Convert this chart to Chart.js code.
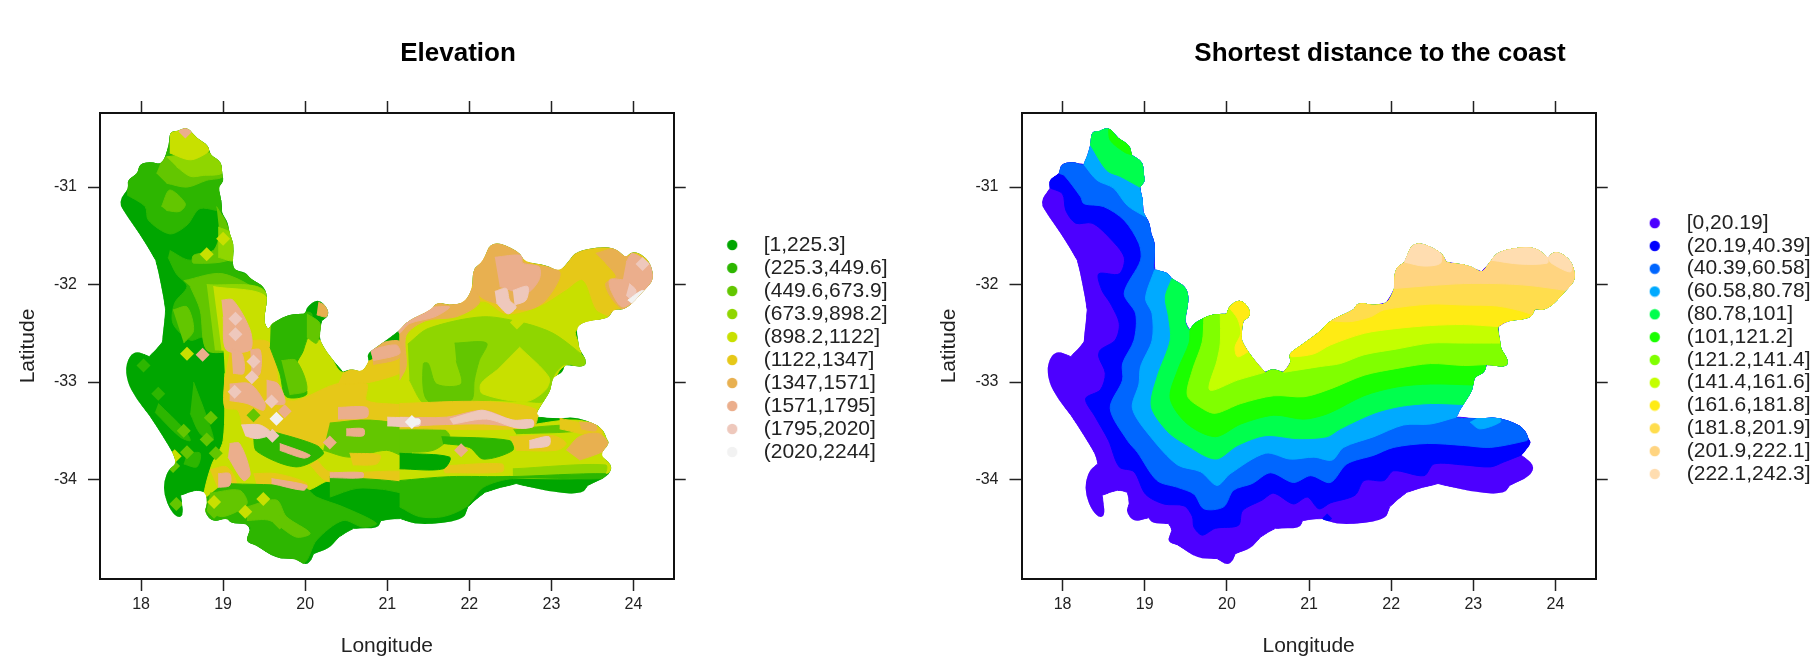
<!DOCTYPE html>
<html>
<head>
<meta charset="utf-8">
<title>Elevation and distance to the coast</title>
<script src="https://cdn.jsdelivr.net/npm/chart.js@4/dist/chart.umd.min.js"></script>
<style>
html, body { margin: 0; padding: 0; background: #fff; overflow: hidden; width: 1812px; height: 667px; }
.panel { position: absolute; top: 0; height: 667px; }
#elevationPanel { left: 0; width: 916px; }
#distancePanel { left: 930px; width: 900px; }
</style>
</head>
<body>
<div class="panel" id="elevationPanel"><canvas id="elevationChart"></canvas></div>
<div class="panel" id="distancePanel"><canvas id="distanceChart"></canvas></div>
<script>
const lonTicks = [18, 19, 20, 21, 22, 23, 24];
const latTicks = [-31, -32, -33, -34];

const elevationLabels = ['[1,225.3]', '(225.3,449.6]', '(449.6,673.9]', '(673.9,898.2]', '(898.2,1122]', '(1122,1347]', '(1347,1571]', '(1571,1795]', '(1795,2020]', '(2020,2244]'];
const elevationColors = ['#00A600', '#2DB600', '#63C600', '#8FD600', '#C8E000', '#E6C818', '#E8B050', '#EBAE8C', '#EEC8BC', '#F2F2F2'];

const distanceLabels = ['[0,20.19]', '(20.19,40.39]', '(40.39,60.58]', '(60.58,80.78]', '(80.78,101]', '(101,121.2]', '(121.2,141.4]', '(141.4,161.6]', '(161.6,181.8]', '(181.8,201.9]', '(201.9,222.1]', '(222.1,242.3]'];
const distanceColors = ['#4C00FF', '#0000FF', '#0066FF', '#00AAFF', '#00FF4D', '#1AFF00', '#80FF00', '#C4FF00', '#FFEB14', '#FFDD4D', '#FFD480', '#FFDDB0'];

// province outline, clockwise from the northern tip, [lon, lat]
const coast = [
  [18.56,-30.38],[18.68,-30.50],[18.82,-30.57],[18.84,-30.67],[18.98,-30.74],[18.99,-30.88],[19.01,-30.94],[18.94,-31.00],
  [18.98,-31.13],[18.98,-31.25],[19.02,-31.31],[19.06,-31.37],[19.08,-31.48],[19.13,-31.58],[19.12,-31.72],[19.12,-31.85],[19.27,-31.87],
  [19.33,-31.94],[19.51,-32.02],[19.54,-32.16],[19.49,-32.37],[19.55,-32.47],[19.59,-32.40],[19.72,-32.34],[19.81,-32.31],[19.92,-32.30],[20.00,-32.30],
  [20.02,-32.23],[20.16,-32.14],[20.28,-32.25],[20.28,-32.33],[20.20,-32.37],[20.18,-32.50],[20.18,-32.57],[20.26,-32.69],[20.46,-32.90],
  [20.56,-32.86],[20.69,-32.90],[20.78,-32.79],[20.75,-32.71],[20.87,-32.64],[21.15,-32.47],[21.25,-32.37],[21.54,-32.26],[21.60,-32.18],
  [21.76,-32.21],[21.94,-32.19],[22.04,-32.04],[22.04,-31.84],[22.165,-31.77],[22.27,-31.54],[22.61,-31.66],[22.67,-31.77],[22.935,-31.80],
  [23.10,-31.87],[23.22,-31.75],[23.30,-31.66],[23.60,-31.61],[23.79,-31.63],[23.91,-31.73],[23.97,-31.66],[24.09,-31.68],[24.21,-31.78],
  [24.25,-31.95],[24.13,-32.06],[23.91,-32.26],[23.75,-32.25],[23.70,-32.35],[23.44,-32.37],[23.30,-32.43],[23.33,-32.60],[23.34,-32.66],[23.43,-32.78],
  [23.40,-32.85],[23.16,-32.82],[23.14,-32.90],[23.02,-32.95],[23.00,-33.03],[22.98,-33.10],[22.88,-33.23],[22.79,-33.36],[23.10,-33.37],[23.30,-33.36],
  [23.54,-33.43],[23.64,-33.50],[23.67,-33.58],[23.71,-33.63],[23.58,-33.75],[23.75,-33.85],[23.69,-33.97],[23.44,-34.06],[23.38,-34.15],[22.98,-34.13],
  [22.57,-34.04],[22.19,-34.13],[21.98,-34.28],[21.93,-34.42],[21.38,-34.47],[21.16,-34.40],[20.92,-34.42],[20.89,-34.50],[20.59,-34.50],
  [20.41,-34.59],[20.29,-34.71],[20.10,-34.76],[20.08,-34.83],[20.00,-34.88],[19.88,-34.81],[19.64,-34.81],[19.40,-34.67],[19.27,-34.64],
  [19.33,-34.52],[19.29,-34.45],[19.09,-34.45],[19.05,-34.39],[18.87,-34.44],[18.77,-34.33],[18.81,-34.25],[18.79,-34.13],[18.67,-34.11],
  [18.48,-34.16],[18.52,-34.35],[18.46,-34.40],[18.36,-34.32],[18.28,-34.16],[18.28,-34.01],[18.34,-33.89],[18.43,-33.84],[18.39,-33.73],
  [18.26,-33.55],[18.10,-33.34],[17.94,-33.17],[17.83,-33.00],[17.81,-32.81],[17.92,-32.67],[18.10,-32.74],[18.26,-32.59],[18.26,-32.54],
  [18.30,-32.26],[18.24,-31.99],[18.18,-31.75],[17.98,-31.48],[17.83,-31.30],[17.72,-31.15],[17.85,-31.01],[17.83,-30.93],[17.96,-30.86],
  [17.98,-30.76],[18.12,-30.74],[18.26,-30.77],[18.34,-30.57],[18.35,-30.43],[18.44,-30.43]
];

// distance bands: each line runs from one point of the outline to another
const line20 = [[17.85,-31.01],[18.00,-31.07],[18.04,-31.24],[18.16,-31.37],[18.36,-31.37],[18.56,-31.51],[18.75,-31.72],[18.69,-31.89],[18.44,-31.89],[18.48,-32.06],[18.58,-32.19],[18.69,-32.40],[18.64,-32.57],[18.46,-32.67],[18.44,-32.74],[18.52,-32.91],[18.46,-33.08],[18.28,-33.17],[18.40,-33.36],[18.56,-33.60],[18.69,-33.87],[18.87,-33.92],[19.01,-34.15],[19.23,-34.25],[19.48,-34.27],[19.58,-34.38],[19.60,-34.49],[19.70,-34.57],[19.86,-34.50],[20.14,-34.47],[20.19,-34.32],[20.43,-34.21],[20.57,-34.14],[20.81,-34.25],[20.98,-34.18],[21.12,-34.30],[21.26,-34.24],[21.56,-34.16],[21.67,-34.01],[21.91,-34.01],[22.03,-33.91],[22.40,-33.96],[22.52,-33.84],[22.88,-33.85],[23.21,-33.87],[23.37,-33.82],[23.58,-33.75]];
const line40 = [[17.96,-30.86],[18.02,-30.88],[18.22,-31.10],[18.26,-31.17],[18.50,-31.20],[18.75,-31.34],[18.93,-31.58],[18.95,-31.75],[18.75,-32.09],[18.89,-32.30],[18.87,-32.57],[18.73,-32.81],[18.73,-32.98],[18.58,-33.27],[18.79,-33.60],[18.91,-33.72],[19.15,-34.01],[19.40,-34.08],[19.60,-34.15],[19.72,-34.30],[19.96,-34.28],[20.08,-34.11],[20.31,-34.04],[20.53,-33.93],[20.81,-34.03],[21.02,-33.96],[21.26,-34.03],[21.46,-33.84],[21.79,-33.75],[22.03,-33.67],[22.44,-33.63],[22.88,-33.65],[23.21,-33.67],[23.65,-33.60],[23.67,-33.58]];
const line60north = [[18.26,-30.77],[18.42,-30.93],[18.62,-31.01],[18.79,-31.19],[19.02,-31.31]];
const line60main = [[19.12,-31.85],[19.01,-32.14],[19.09,-32.30],[19.09,-32.57],[18.95,-32.84],[18.93,-33.02],[18.85,-33.27],[19.07,-33.56],[19.40,-33.85],[19.68,-33.92],[19.88,-34.06],[20.04,-33.94],[20.47,-33.73],[20.77,-33.79],[21.06,-33.77],[21.28,-33.80],[21.42,-33.67],[21.79,-33.56],[22.15,-33.44],[22.48,-33.43],[22.79,-33.36]];
const patch60east = [[22.96,-33.41],[23.08,-33.48],[23.33,-33.41],[23.31,-33.36],[23.04,-33.37]];
const line80north = [[18.34,-30.57],[18.54,-30.83],[18.70,-30.89],[18.94,-31.00]];
const line80main = [[19.33,-31.94],[19.25,-32.13],[19.29,-32.33],[19.31,-32.57],[19.15,-32.95],[19.08,-33.25],[19.27,-33.50],[19.48,-33.63],[19.86,-33.79],[20.13,-33.65],[20.47,-33.55],[20.86,-33.58],[21.22,-33.56],[21.38,-33.48],[21.79,-33.32],[22.11,-33.25],[22.48,-33.22],[22.88,-33.23]];
const line100north = [[18.56,-30.38],[18.58,-30.52],[18.75,-30.64],[18.84,-30.67]];
const line100main = [[19.55,-32.47],[19.54,-32.60],[19.40,-32.88],[19.31,-33.17],[19.52,-33.43],[19.86,-33.56],[20.17,-33.43],[20.57,-33.34],[20.94,-33.38],[21.24,-33.32],[21.67,-33.14],[22.07,-33.05],[22.48,-33.02],[23.00,-33.03]];
const line120 = [[19.72,-32.34],[19.70,-32.59],[19.58,-32.88],[19.52,-33.14],[19.70,-33.27],[19.86,-33.32],[20.17,-33.22],[20.57,-33.14],[20.94,-33.15],[21.26,-33.07],[21.67,-32.93],[22.07,-32.86],[22.48,-32.81],[22.88,-32.83],[23.16,-32.82]];
const line140lobe = [[19.92,-32.30],[19.92,-32.60],[19.88,-32.78],[19.79,-33.08],[20.13,-32.98],[20.46,-32.90]];
const line140main = [[20.69,-32.90],[21.14,-32.84],[21.38,-32.81],[21.67,-32.72],[22.07,-32.66],[22.48,-32.60],[22.88,-32.60],[23.33,-32.60]];
const line160lobe = [[20.02,-32.23],[20.13,-32.35],[20.17,-32.50],[20.10,-32.64],[20.13,-32.74],[20.26,-32.69]];
const line160main = [[20.75,-32.71],[20.79,-32.74],[21.06,-32.71],[21.26,-32.62],[21.67,-32.50],[22.07,-32.45],[22.48,-32.42],[22.88,-32.41],[23.30,-32.43]];
const line180 = [[21.25,-32.37],[21.50,-32.38],[21.75,-32.33],[21.91,-32.26],[22.48,-32.20],[22.88,-32.21],[23.29,-32.22],[23.69,-32.30],[23.70,-32.35]];
const line200 = [[22.04,-32.04],[22.48,-32.01],[22.88,-31.99],[23.29,-31.99],[23.69,-32.01],[24.13,-32.06]];
const line220a = [[22.165,-31.77],[22.40,-31.81],[22.60,-31.78],[22.61,-31.66]];
const line220b = [[23.22,-31.75],[23.57,-31.79],[23.90,-31.78],[23.91,-31.73]];
const line220c = [[23.91,-31.73],[23.95,-31.78],[24.18,-31.87],[24.21,-31.78]];
const blueSpot = [[21.22,-34.40]];

// elevation patches in drawing order: [class index, outline]
const elevationPatches = [
  [1, [[17.83,-30.93],[17.95,-30.76],[18.56,-30.35],[19.08,-30.72],[19.08,-31.24],[18.72,-31.22],[18.56,-31.39],[18.35,-31.48],[18.09,-31.34],[18.05,-31.20],[17.83,-31.08]]],
  [1, [[18.35,-31.65],[18.60,-31.75],[19.12,-31.65],[19.16,-31.85],[19.57,-31.99],[19.57,-32.54],[19.08,-32.67],[18.76,-32.54],[18.60,-32.57],[18.39,-32.40],[18.41,-32.19],[18.56,-32.02],[18.43,-31.89],[18.33,-31.72]]],
  [1, [[18.21,-33.22],[18.52,-33.48],[18.60,-33.60],[18.47,-33.56],[18.17,-33.31]]],
  [1, [[18.64,-33.00],[18.80,-33.36],[18.88,-33.60],[18.72,-33.53],[18.60,-33.32]]],
  [1, [[18.56,-33.73],[18.72,-33.73],[18.68,-33.87],[18.52,-33.84]]],
  [2, [[18.19,-30.86],[18.31,-30.69],[18.98,-30.72],[19.00,-30.89],[18.80,-30.93],[18.56,-31.00],[18.31,-30.96]]],
  [2, [[18.25,-31.20],[18.35,-31.03],[18.54,-31.17],[18.47,-31.25],[18.31,-31.24]]],
  [2, [[18.92,-31.20],[19.04,-31.37],[19.12,-31.72],[18.64,-31.78],[18.64,-31.70],[18.88,-31.65],[18.96,-31.51]]],
  [2, [[18.52,-31.96],[19.00,-31.89],[19.49,-32.13],[19.49,-32.47],[19.12,-32.67],[18.80,-32.67],[18.72,-32.26],[18.60,-32.02]]],
  [2, [[18.39,-32.26],[18.56,-32.23],[18.64,-32.47],[18.52,-32.60]]],
  [3, [[18.31,-30.69],[18.84,-30.65],[18.99,-30.76],[18.98,-30.86],[18.76,-30.88],[18.60,-30.89],[18.43,-30.79]]],
  [3, [[18.94,-31.41],[19.10,-31.48],[19.13,-31.75],[18.94,-31.72]]],
  [4, [[18.35,-30.41],[18.56,-30.38],[18.84,-30.59],[18.80,-30.65],[18.60,-30.72],[18.35,-30.65]]],
  // central ranges
  [3, [[18.80,-32.00],[19.50,-32.06],[19.60,-32.67],[18.90,-32.67]]],
  [4, [[18.88,-32.02],[19.53,-32.13],[19.55,-32.67],[18.98,-32.67]]],
  [4, [[19.00,-32.57],[20.18,-32.57],[20.46,-32.90],[21.27,-32.67],[21.27,-34.01],[20.30,-34.01],[20.02,-34.11],[19.33,-34.08],[19.04,-34.11],[18.78,-34.38],[18.76,-34.18],[18.86,-33.85],[19.00,-33.60],[19.02,-32.91]]],
  [5, [[19.10,-32.60],[19.57,-32.60],[19.71,-33.15],[19.89,-33.19],[20.38,-33.02],[20.75,-33.02],[20.75,-33.19],[21.27,-33.26],[21.27,-33.46],[20.62,-33.50],[20.30,-33.60],[19.98,-33.73],[19.65,-33.63],[19.29,-33.56],[19.18,-33.29],[19.02,-33.26],[19.02,-32.95]]],
  [5, [[20.46,-32.91],[20.79,-32.78],[21.27,-32.64],[21.27,-32.85],[20.80,-33.00],[20.40,-33.02]]],
  [5, [[20.14,-33.80],[20.30,-33.92],[21.27,-33.92],[21.27,-34.01],[20.28,-34.02],[20.06,-33.85]]],
  [5, [[18.84,-33.90],[19.04,-33.87],[19.16,-34.04],[18.96,-34.14]]],
  [5, [[19.37,-33.94],[19.65,-33.94],[20.02,-34.04],[19.98,-34.13],[19.41,-34.06]]],
  [4, [[21.15,-33.46],[21.64,-33.44],[22.53,-33.46],[23.30,-33.39],[23.75,-33.53],[23.75,-33.87],[23.66,-33.94],[22.49,-33.96],[21.15,-34.01]]],
  [2, [[20.30,-33.42],[20.79,-33.39],[21.27,-33.48],[21.27,-33.77],[20.99,-33.70],[20.54,-33.77],[20.22,-33.70]]],
  [2, [[21.15,-33.46],[21.64,-33.46],[21.76,-33.56],[21.56,-33.70],[21.15,-33.72]]],
  [2, [[22.53,-33.48],[23.30,-33.44],[23.34,-33.50],[22.57,-33.53]]],
  [3, [[22.53,-33.89],[23.66,-33.85],[23.62,-33.97],[22.53,-33.99]]],
  [5, [[20.54,-33.73],[20.91,-33.75],[20.87,-33.84],[20.58,-33.85]]],
  [5, [[21.66,-33.86],[22.40,-33.84],[22.40,-33.92],[21.70,-33.93]]],
  [1, [[19.29,-33.45],[19.61,-33.51],[20.14,-33.65],[20.22,-33.74],[19.89,-33.87],[19.41,-33.71],[19.37,-33.56]]],
  [1, [[21.66,-33.56],[22.49,-33.60],[22.53,-33.70],[22.17,-33.79],[22.00,-33.67],[21.68,-33.63]]],
  [0, [[21.15,-33.73],[21.76,-33.77],[21.68,-33.89],[21.15,-33.89]]],
  // southern belt
  [1, [[19.00,-34.04],[19.98,-34.08],[20.14,-34.18],[20.46,-34.28],[20.87,-34.45],[20.71,-34.49],[20.46,-34.42],[20.14,-34.62],[19.98,-34.86],[19.65,-34.79],[19.29,-34.62],[19.33,-34.49],[19.08,-34.45],[18.80,-34.38],[18.80,-34.18]]],
  [2, [[18.84,-34.14],[19.20,-34.11],[19.29,-34.25],[19.00,-34.38],[18.80,-34.32]]],
  [2, [[19.29,-34.28],[19.65,-34.21],[19.77,-34.38],[20.06,-34.55],[19.89,-34.59],[19.57,-34.42],[19.29,-34.42]]],
  [1, [[20.30,-33.97],[21.27,-34.04],[21.27,-34.14],[20.94,-34.10],[20.63,-34.09],[20.30,-34.18]]],
  [1, [[21.15,-34.01],[21.76,-33.97],[22.49,-33.97],[23.66,-33.94],[23.62,-33.99],[22.53,-33.99],[22.17,-34.08],[21.96,-34.28],[21.68,-34.38],[21.39,-34.38],[21.15,-34.28]]],
  // inland plateau in the north east
  [1, [[19.58,-32.39],[19.81,-32.31],[20.08,-32.30],[19.98,-32.67],[19.89,-32.84],[20.02,-33.12],[19.77,-33.15],[19.69,-32.91],[19.57,-32.64]]],
  [2, [[20.02,-32.30],[20.18,-32.40],[20.14,-32.60],[20.02,-32.54]]],
  [2, [[19.71,-32.78],[19.89,-32.78],[20.02,-33.08],[19.81,-33.13]]],
  [5, [[21.15,-32.37],[21.56,-32.13],[22.04,-31.75],[22.27,-31.48],[24.40,-31.54],[24.40,-32.13],[23.75,-32.40],[22.77,-32.43],[21.15,-32.71]]],
  [4, [[21.15,-32.50],[21.56,-32.30],[22.17,-32.18],[22.45,-32.31],[22.85,-32.23],[23.18,-32.06],[23.38,-31.96],[23.54,-32.26],[23.75,-32.37],[23.30,-32.47],[23.36,-32.71],[23.10,-32.88],[22.81,-33.36],[21.15,-33.39]]],
  [3, [[21.25,-32.61],[21.50,-32.45],[22.17,-32.33],[22.69,-32.40],[23.02,-32.50],[23.30,-32.67],[23.43,-32.78],[23.40,-32.85],[23.16,-32.82],[23.02,-32.95],[22.94,-33.19],[22.69,-33.20],[22.12,-33.19],[21.68,-33.26],[21.44,-33.22],[21.27,-32.98]]],
  [4, [[22.61,-32.64],[22.97,-32.95],[22.93,-33.08],[22.69,-33.20],[22.16,-33.12],[22.14,-33.02],[22.33,-32.88]]],
  [2, [[21.82,-32.60],[22.21,-32.60],[22.12,-32.78],[22.06,-32.98],[22.02,-33.19],[21.64,-33.26],[21.46,-33.15],[21.44,-32.81],[21.50,-32.81],[21.60,-33.02],[21.90,-33.02],[21.84,-32.78]]],
  // high ground
  [5, [[21.15,-33.22],[22.17,-33.20],[22.81,-33.28],[22.77,-33.46],[21.15,-33.48]]],
  [5, [[22.49,-33.56],[23.02,-33.55],[23.18,-33.63],[23.06,-33.70],[22.57,-33.70]]],
  [5, [[23.10,-33.37],[23.60,-33.48],[23.60,-33.56],[23.10,-33.48]]],
  [6, [[22.04,-31.82],[22.27,-31.54],[22.61,-31.66],[22.67,-31.77],[23.10,-31.87],[22.93,-32.16],[22.69,-32.26],[22.21,-32.16],[22.04,-32.06]]],
  [6, [[21.15,-32.47],[21.25,-32.37],[21.56,-32.18],[21.76,-32.21],[22.04,-32.04],[22.12,-32.19],[21.84,-32.33],[21.47,-32.37],[21.23,-32.52],[21.23,-32.84],[21.15,-32.98]]],
  [6, [[23.54,-31.68],[23.79,-31.63],[23.95,-31.72],[24.25,-31.92],[24.13,-32.09],[23.91,-32.26],[23.75,-32.16],[23.66,-31.99],[23.79,-31.92],[23.66,-31.78]]],
  [6, [[23.18,-33.70],[23.34,-33.56],[23.58,-33.53],[23.71,-33.66],[23.58,-33.73],[23.34,-33.80]]],
  [6, [[23.34,-33.41],[23.54,-33.43],[23.54,-33.50],[23.36,-33.48]]],
  [6, [[20.79,-32.62],[21.15,-32.58],[21.15,-32.75],[20.83,-32.82]]],
  [7, [[22.31,-31.72],[22.63,-31.70],[22.65,-31.78],[22.85,-31.82],[22.85,-31.95],[22.69,-32.09],[22.37,-32.02]]],
  [7, [[21.56,-32.23],[21.76,-32.23],[21.58,-32.33],[21.27,-32.40],[21.15,-32.50],[21.15,-32.43],[21.27,-32.35]]],
  [7, [[23.91,-31.77],[23.99,-31.68],[24.23,-31.82],[24.25,-31.95],[24.11,-32.09],[23.87,-32.23],[23.73,-32.07],[23.71,-31.95],[23.87,-31.95]]],
  [7, [[21.15,-33.36],[21.72,-33.36],[22.17,-33.29],[22.53,-33.39],[22.77,-33.39],[22.77,-33.46],[22.17,-33.43],[21.56,-33.44],[21.15,-33.46]]],
  [7, [[18.98,-32.16],[19.12,-32.16],[19.33,-32.47],[19.33,-32.67],[19.04,-32.67],[19.00,-32.33]]],
  [7, [[19.10,-32.66],[19.23,-32.71],[19.25,-32.91],[19.12,-32.91]]],
  [7, [[19.33,-32.67],[19.45,-32.67],[19.45,-32.91],[19.35,-32.98]]],
  [7, [[19.08,-33.02],[19.33,-33.02],[19.51,-33.22],[19.49,-33.29],[19.29,-33.22],[19.08,-33.19]]],
  [7, [[19.53,-32.98],[19.67,-33.02],[19.75,-33.22],[19.53,-33.22]]],
  [7, [[20.40,-33.26],[20.75,-33.26],[20.75,-33.36],[20.40,-33.38]]],
  [7, [[20.50,-33.48],[20.71,-33.48],[20.71,-33.55],[20.50,-33.55]]],
  [7, [[20.79,-32.67],[21.11,-32.62],[21.15,-32.71],[20.83,-32.78]]],
  [7, [[19.08,-33.63],[19.20,-33.63],[19.33,-33.94],[19.25,-34.01],[19.06,-33.77]]],
  [7, [[18.94,-33.94],[19.08,-33.94],[19.08,-34.06],[18.94,-34.08]]],
  [7, [[19.59,-33.99],[20.02,-34.06],[19.98,-34.11],[19.59,-34.04]]],
  [7, [[19.69,-33.63],[20.06,-33.75],[19.98,-33.78],[19.69,-33.70]]],
  [7, [[20.30,-33.93],[20.70,-33.93],[20.70,-33.98],[20.30,-33.98]]],
  [6, [[20.16,-32.18],[20.27,-32.23],[20.26,-32.33],[20.14,-32.31]]],
  [8, [[22.31,-32.07],[22.45,-32.04],[22.49,-32.16],[22.57,-32.23],[22.47,-32.30],[22.33,-32.19]]],
  [8, [[22.53,-32.06],[22.71,-32.02],[22.69,-32.16],[22.55,-32.21]]],
  [8, [[23.95,-31.99],[24.03,-32.06],[23.99,-32.16],[23.91,-32.11]]],
  [8, [[21.76,-33.38],[22.04,-33.31],[22.17,-33.29],[22.53,-33.39],[22.77,-33.39],[22.77,-33.46],[22.57,-33.47],[22.21,-33.38],[21.80,-33.43]]],
  [8, [[22.73,-33.60],[22.97,-33.56],[22.97,-33.65],[22.73,-33.68]]],
  [8, [[19.22,-33.44],[19.45,-33.44],[19.59,-33.53],[19.41,-33.58],[19.27,-33.55]]],
  [8, [[21.00,-33.36],[21.39,-33.38],[21.39,-33.45],[21.00,-33.45]]],
  [9, [[23.93,-32.16],[24.11,-32.06],[24.17,-32.11],[24.01,-32.22]]],
  [9, [[21.25,-33.39],[21.39,-33.38],[21.39,-33.43],[21.27,-33.45]]]
];

// small single cells scattered over the patches, [lon, lat]
const cellsClass2 = [[18.03,-32.83],[18.21,-33.12]];
const cellsClass3 = [[18.85,-33.365],[18.80,-33.59],[18.52,-33.50],[18.56,-33.72],[18.91,-33.73],[18.39,-33.86],[18.43,-34.25],[18.89,-34.33],[19.69,-34.44],[19.37,-33.34]];
const cellsClass5 = [[18.56,-32.71],[18.41,-33.76],[18.89,-34.23],[19.49,-34.20],[19.27,-34.33],[19.00,-31.53],[18.80,-31.69],[22.58,-32.39]];
const cellsClass7 = [[18.75,-32.72],[18.54,-30.43],[19.75,-33.30],[20.30,-33.62],[21.90,-33.70]];
const cellsClass9 = [[19.15,-32.35],[19.15,-32.51],[19.37,-32.79],[19.35,-32.95],[19.14,-33.10],[19.59,-33.20],[19.60,-33.55],[24.11,-31.79]];
const cellsClass10 = [[19.65,-33.375],[21.30,-33.41]];

function nearestCoastIndex(p) {
    let best = 0, bestDist = Infinity;
    coast.forEach((c, i) => {
        const d = (c[0] - p[0]) ** 2 + (c[1] - p[1]) ** 2;
        if (d < bestDist) { bestDist = d; best = i; }
    });
    return best;
}

// walk the outline from the line's first point to its last, then come back along the line
function regionBehind(line) {
    const end = nearestCoastIndex(line[line.length - 1]);
    const pts = [];
    for (let k = nearestCoastIndex(line[0]); ; k = (k + 1) % coast.length) {
        pts.push(coast[k]);
        if (k === end) break;
    }
    return pts.concat(line.slice().reverse());
}

function toXY(pts) {
    return pts.map(p => ({ x: p[0], y: p[1] }));
}

function polygonSet(pts, color) {
    return { data: toXY(pts), showLine: true, fill: 'shape', tension: 0.3, pointRadius: 0, borderWidth: 1, borderColor: color, backgroundColor: color };
}

function cellSet(pts, color, radius) {
    return { data: toXY(pts), showLine: false, pointStyle: 'rectRot', pointRadius: radius, pointBorderWidth: 0, pointBackgroundColor: color, backgroundColor: color };
}

function legendDot(color) {
    const c = document.createElement('canvas');
    c.width = 12;
    c.height = 12;
    const g = c.getContext('2d');
    g.fillStyle = color;
    g.beginPath();
    g.arc(6, 6, 5.2, 0, Math.PI * 2);
    g.fill();
    return c;
}

function legendOptions(labels, colors, spacing, boxWidth) {
    return {
        position: 'right',
        fullSize: false,
        maxWidth: 260,
        // the blank title only nudges the list down a little
        title: { display: true, text: ' ', padding: 0, font: { size: 5, lineHeight: 1 } },
        labels: {
            usePointStyle: true,
            pointStyleWidth: boxWidth,
            padding: spacing,
            color: '#222',
            font: { family: '"Liberation Sans", Arial, sans-serif', size: 21, lineHeight: 1 },
            generateLabels: () => labels.map((text, i) => ({
                text: text,
                fillStyle: colors[i],
                strokeStyle: colors[i],
                fontColor: '#222',
                lineWidth: 0,
                hidden: false,
                pointStyle: legendDot(colors[i])
            }))
        }
    };
}

const axisFont = '"Liberation Sans", Arial, sans-serif';

function frameGrid() {
    return { drawOnChartArea: false, drawTicks: true, tickLength: 12, tickWidth: 1.5, tickColor: '#222' };
}

function scaleSet(leftWidth, titlePad, rightWidth) {
    const border = { display: true, color: '#111', width: 2 };
    return {
        x: {
            type: 'linear', position: 'bottom', min: 17.5, max: 24.49,
            afterBuildTicks: s => { s.ticks = lonTicks.map(v => ({ value: v })); },
            afterFit: s => { s.height = 88; },
            grid: frameGrid(), border: border,
            ticks: { color: '#222', padding: 4, maxRotation: 0, autoSkip: false, font: { family: axisFont, size: 16 } },
            title: { display: true, text: 'Longitude', color: '#222', padding: { top: 0, bottom: 8 }, font: { family: axisFont, size: 21 } }
        },
        xTop: {
            type: 'linear', position: 'top', min: 17.5, max: 24.49,
            afterBuildTicks: s => { s.ticks = lonTicks.map(v => ({ value: v })); },
            afterFit: s => { s.height = 13; },
            grid: frameGrid(), border: border,
            ticks: { display: false, autoSkip: false }
        },
        y: {
            type: 'linear', position: 'left', min: -35.02, max: -30.24,
            afterBuildTicks: s => { s.ticks = latTicks.map(v => ({ value: v })); },
            afterFit: s => { s.width = leftWidth; },
            grid: frameGrid(), border: border,
            ticks: { color: '#222', padding: 11, autoSkip: false, font: { family: axisFont, size: 16 }, callback: v => String(v) },
            title: { display: true, text: 'Latitude', color: '#222', padding: { top: titlePad, bottom: 0 }, font: { family: axisFont, size: 21 } }
        },
        yRight: {
            type: 'linear', position: 'right', min: -35.02, max: -30.24,
            afterBuildTicks: s => { s.ticks = latTicks.map(v => ({ value: v })); },
            afterFit: s => { s.width = rightWidth; },
            grid: frameGrid(), border: border,
            ticks: { display: false, autoSkip: false }
        }
    };
}

function chartOptions(title, legend, leftWidth, titlePad, sidePad, rightWidth) {
    return {
        responsive: false,
        animation: false,
        events: [],
        layout: { padding: { left: sidePad, top: 0, bottom: 0, right: sidePad } },
        scales: scaleSet(leftWidth, titlePad, rightWidth),
        plugins: {
            legend: legend,
            tooltip: { enabled: false },
            title: { display: true, text: title, color: '#000', padding: { top: 38.4, bottom: 30.4 }, font: { family: axisFont, size: 26, weight: 'bold' } }
        }
    };
}

// keeps the layers inside a softly rounded province outline
const coastClip = {
    id: 'coastClip',
    beforeDatasetsDraw(chart) {
        const { ctx, scales } = chart;
        const px = coast.map(c => [scales.x.getPixelForValue(c[0]), scales.y.getPixelForValue(c[1])]);
        const n = px.length;
        ctx.save();
        ctx.beginPath();
        ctx.moveTo((px[n - 1][0] + px[0][0]) / 2, (px[n - 1][1] + px[0][1]) / 2);
        px.forEach((p, i) => {
            const next = px[(i + 1) % n];
            ctx.quadraticCurveTo(p[0], p[1], (p[0] + next[0]) / 2, (p[1] + next[1]) / 2);
        });
        ctx.closePath();
        ctx.clip();
    },
    afterDatasetsDraw(chart) {
        chart.ctx.restore();
    }
};

function sizeCanvas(id, w, h) {
    const c = document.getElementById(id);
    c.width = w;
    c.height = h;
    c.style.width = w + 'px';
    c.style.height = h + 'px';
    return c;
}

function stackOrder(sets) {
    // the library paints the lowest order last
    sets.forEach((s, i) => { s.order = -i; });
    return sets;
}

const elevationSets = [polygonSet(coast, elevationColors[0])];
elevationSets[0].tension = 0;
elevationPatches.forEach(([cls, pts]) => elevationSets.push(polygonSet(pts, elevationColors[cls])));
elevationSets.push(cellSet(cellsClass2, elevationColors[1], 7));
elevationSets.push(cellSet(cellsClass3, elevationColors[2], 7));
elevationSets.push(cellSet(cellsClass5, elevationColors[4], 7));
elevationSets.push(cellSet(cellsClass7, elevationColors[7], 7));
elevationSets.push(cellSet(cellsClass9, elevationColors[8], 7));
elevationSets.push(cellSet(cellsClass10, elevationColors[9], 7));

new Chart(sizeCanvas('elevationChart', 916, 667), {
    type: 'scatter',
    data: { datasets: stackOrder(elevationSets) },
    options: chartOptions('Elevation', legendOptions(elevationLabels, elevationColors, 2, 42), 81.5, -3.1, 18.5, 35.5),
    plugins: [coastClip]
});

const distanceSets = [
    polygonSet(coast, distanceColors[0]),
    polygonSet(regionBehind(line20), distanceColors[1]),
    cellSet(blueSpot, distanceColors[1], 5),
    polygonSet(regionBehind(line40), distanceColors[2]),
    polygonSet(regionBehind(line60north), distanceColors[3]),
    polygonSet(regionBehind(line60main), distanceColors[3]),
    polygonSet(patch60east, distanceColors[3]),
    polygonSet(regionBehind(line80north), distanceColors[4]),
    polygonSet(regionBehind(line80main), distanceColors[4]),
    polygonSet(regionBehind(line100north), distanceColors[5]),
    polygonSet(regionBehind(line100main), distanceColors[5]),
    polygonSet(regionBehind(line120), distanceColors[6]),
    polygonSet(regionBehind(line140lobe), distanceColors[7]),
    polygonSet(regionBehind(line140main), distanceColors[7]),
    polygonSet(regionBehind(line160lobe), distanceColors[8]),
    polygonSet(regionBehind(line160main), distanceColors[8]),
    polygonSet(regionBehind(line180), distanceColors[9]),
    polygonSet(regionBehind(line200), distanceColors[10]),
    polygonSet(regionBehind(line220a), distanceColors[11]),
    polygonSet(regionBehind(line220b), distanceColors[11]),
    polygonSet(regionBehind(line220c), distanceColors[11])
];
distanceSets[0].tension = 0;

new Chart(sizeCanvas('distanceChart', 900, 667), {
    type: 'scatter',
    data: { datasets: stackOrder(distanceSets) },
    options: chartOptions('Shortest distance to the coast', legendOptions(distanceLabels, distanceColors, 1.8, 43), 82, -3.1, 9.5, 35.7),
    plugins: [coastClip]
});
</script>
</body>
</html>
